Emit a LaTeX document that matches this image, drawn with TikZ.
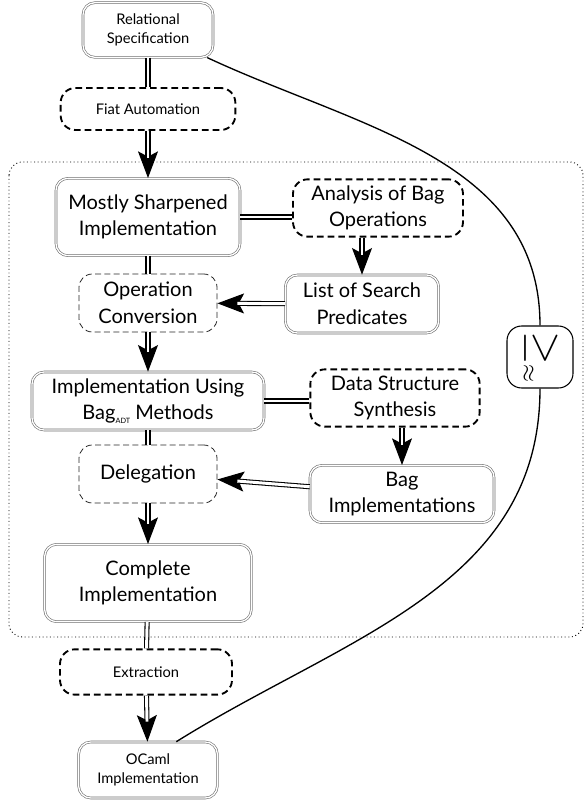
\documentclass[tikz,border=0pt]{standalone}
\usepackage{fontspec}
\setmainfont{Lato}
\usepackage{graphicx}
\usetikzlibrary{positioning, arrows.meta, calc}
\definecolor{rimgray}{RGB}{110,110,110}
\tikzset{
    result/.style={rectangle, rounded corners=9pt, draw=rimgray, double=white, double distance=1pt, line width=0.45pt, align=center, inner sep=1pt, font=\fontsize{15}{20}\selectfont},
    resultsmall/.style={result, font=\fontsize{11}{14}\selectfont},
    process/.style={rectangle, rounded corners=11pt, draw=black, line width=1.4pt, dash pattern=on 5pt off 3pt, align=center, inner sep=1pt, font=\fontsize{15}{20}\selectfont},
    processsmall/.style={process, font=\fontsize{11}{14}\selectfont},
    tactic/.style={rectangle, rounded corners=10pt, draw=black!85, line width=0.6pt, dash pattern=on 4.5pt off 2.5pt, align=center, inner sep=1pt, font=\fontsize{15}{20}\selectfont},
    refinebox/.style={rectangle, rounded corners=11pt, draw=black, line width=0.8pt, inner sep=0pt},
    link/.style={draw=black, line width=0.8pt, double=white, double distance=2.2pt},
    tipline/.style={draw=black, line width=0.8pt, -{Stealth[length=20pt, width=15pt, inset=4pt]}},
    stage/.style={draw=black, dotted, line width=0.7pt, rounded corners=10pt},
    spec/.style={draw=black, line width=1pt}
}
% double connector ending in a solid head
\newcommand{\linkto}[2]{\draw[tipline] (#1) -- (#2); \draw[link, shorten >=15pt] (#1) -- (#2);}

\begin{document}
\begin{tikzpicture}[x=0.75pt, y=-0.75pt]
    \useasboundingbox (0,0) rectangle (586,803);

    % Refinement stage
    \draw[stage] (9,162) rectangle (583,637);

    % Main column
    \node[resultsmall, minimum width=97.5pt, minimum height=41pt] (rs) at (148,30) {Relational\\Specification};
    \node[processsmall, minimum width=131pt, minimum height=31.5pt] (fa) at (148,109) {Fiat Automation};
    \node[result, minimum width=138pt, minimum height=58pt] (msi) at (148,217) {Mostly Sharpened\\Implementation};
    \node[tactic, minimum width=103.5pt, minimum height=43.5pt] (opc) at (148,303) {Operation\\Conversion};
    \node[result, minimum width=174pt, minimum height=43.5pt] (iub) at (148,401) {Implementation Using\\Bag\raisebox{-3pt}{\fontsize{5.5}{6}\selectfont ADT} Methods};
    \node[tactic, minimum width=103.5pt, minimum height=43.5pt] (del) at (148,474) {Delegation};
    \node[result, minimum width=155pt, minimum height=58pt] (ci) at (148,583) {Complete\\Implementation};
    \node[processsmall, minimum width=129pt, minimum height=34pt] (ext) at (146,672) {Extraction};
    \node[resultsmall, minimum width=104pt, minimum height=42pt] (ocm) at (148,770) {OCaml\\Implementation};

    % Side steps
    \node[process, minimum width=127.5pt, minimum height=43pt] (abo) at (378,208) {Analysis of Bag\\Operations};
    \node[result, minimum width=115pt, minimum height=43.5pt] (lsp) at (362,304) {List of Search\\Predicates};
    \node[process, minimum width=127pt, minimum height=43pt] (dss) at (395,398) {Data Structure\\Synthesis};
    \node[result, minimum width=138pt, minimum height=43pt] (bi) at (402,494) {Bag\\Implementations};

    % Refinement relation
    \node[refinebox, minimum width=49.5pt, minimum height=46.5pt] (ge) at (540,357) {\rotatebox{-90}{\scalebox{1.3}{\Huge$\geq$}\raisebox{-6pt}{\LARGE$\approx$}}};

    % Connectors
    \draw[link] (rs) -- (fa);
    \linkto{fa}{msi}
    \draw[link] (msi.east) -- (msi.east -| abo.west);
    \linkto{abo.south -| lsp.north}{lsp.north}
    \linkto{lsp}{opc}
    \draw[link] (msi) -- (opc);
    \linkto{opc}{iub}
    \draw[link] (iub.east) -- (iub.east -| dss.west);
    \linkto{dss.south -| bi.north}{bi.north}
    \linkto{bi}{del}
    \draw[link] (iub) -- (del);
    \linkto{del}{ci}
    \draw[link] (ci) -- (ext);
    \linkto{ext}{ocm}

    % Specification to OCaml through the refinement
    \draw[spec] (rs.-25) to[out=-25, in=90] (ge.north);
    \draw[spec] (ge.south) to[out=-90, in=32] (ocm.45);
\end{tikzpicture}
\end{document}
